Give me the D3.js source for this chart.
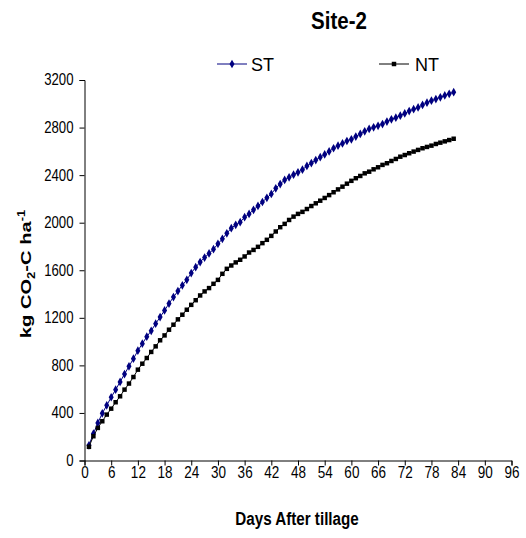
<!DOCTYPE html>
<html>
<head>
<meta charset="utf-8">
<script src="https://cdn.jsdelivr.net/npm/d3@7"></script>
<style>
  body { margin: 0; background: #fff; }
  text { font-family: Arial, "Liberation Sans", sans-serif; fill: #000; }
</style>
</head>
<body>
<script>
// cumulative CO2-C, days 1..83
const days = d3.range(1, 84);
const stValues = [
  128, 226, 316, 397, 464, 532, 596, 661, 727, 792,
  856, 924, 982, 1041, 1091, 1151, 1206, 1262, 1320, 1374,
  1425, 1473, 1520, 1576, 1626, 1669, 1707, 1741, 1777, 1822,
  1864, 1911, 1954, 1982, 2004, 2046, 2074, 2108, 2141, 2174,
  2209, 2242, 2289, 2325, 2360, 2382, 2404, 2424, 2446, 2477,
  2501, 2527, 2551, 2574, 2599, 2626, 2648, 2667, 2687, 2701,
  2724, 2746, 2768, 2788, 2802, 2815, 2829, 2850, 2869, 2883,
  2900, 2919, 2939, 2955, 2969, 2990, 3009, 3026, 3040, 3054,
  3070, 3084, 3098
];
const ntValues = [
  115, 204, 274, 330, 386, 436, 490, 540, 596, 647,
  702, 764, 814, 862, 913, 960, 1011, 1052, 1100, 1142,
  1187, 1226, 1268, 1309, 1348, 1388, 1422, 1450, 1486, 1519,
  1570, 1612, 1640, 1666, 1688, 1716, 1749, 1771, 1797, 1828,
  1856, 1889, 1926, 1962, 1990, 2023, 2051, 2074, 2091, 2115,
  2140, 2163, 2185, 2208, 2232, 2256, 2280, 2303, 2328, 2352,
  2374, 2393, 2415, 2429, 2449, 2466, 2486, 2500, 2519, 2536,
  2555, 2569, 2584, 2598, 2612, 2626, 2637, 2648, 2662, 2673,
  2684, 2695, 2706
];
const xTicks = d3.range(0, 97, 6);
const yTicks = d3.range(0, 3201, 400);

const w = 526, h = 538;
const plotLeft = 84.5, plotRight = 511.5, plotTop = 80, plotBottom = 460.5;
const stretch = 1.18; // text in the source is drawn a bit taller than wide

const svg = d3.select('body').append('svg')
  .attr('width', w).attr('height', h);

const x = d3.scaleLinear().domain([0, 96]).range([plotLeft, plotRight]);
const y = d3.scaleLinear().domain([0, 3200]).range([plotBottom, plotTop]);

// axes
svg.append('g')
  .attr('transform', `translate(0,${plotBottom})`)
  .call(d3.axisBottom(x).tickValues(xTicks).tickSize(5))
  .call(g => g.selectAll('text')
    .attr('font-size', 13.5)
    .attr('y', 17.5 / stretch).attr('dy', 0)
    .attr('transform', `scale(1,${stretch})`))
  .call(g => g.selectAll('path,line').attr('stroke', '#000'));

svg.append('g')
  .attr('transform', `translate(${plotLeft},0)`)
  .call(d3.axisLeft(y).tickValues(yTicks).tickFormat(d3.format('d')).tickSize(5).tickPadding(6))
  .call(g => g.selectAll('text')
    .attr('font-size', 13.2)
    .attr('transform', `scale(1,${stretch})`))
  .call(g => g.selectAll('.tick').each(function(d) {
    // keep label centred on its tick after the vertical stretch
    d3.select(this).select('text').attr('y', 0);
  }))
  .call(g => g.selectAll('path,line').attr('stroke', '#000'));

// series
const series = [
  { name: 'ST', values: stValues, color: '#000080', symbol: d3.symbolDiamond, size: 22 },
  { name: 'NT', values: ntValues, color: '#000000', symbol: d3.symbolSquare, size: 20 }
];

const line = d3.line().x((d, i) => x(days[i])).y(d => y(d));

series.forEach(s => {
  svg.append('path')
    .attr('d', line(s.values))
    .attr('fill', 'none')
    .attr('stroke', s.color)
    .attr('stroke-width', 1);
  svg.append('g').selectAll('path')
    .data(s.values)
    .enter()
    .append('path')
    .attr('transform', (d, i) => `translate(${x(days[i])},${y(d)})`)
    .attr('d', d3.symbol().type(s.symbol).size(s.size))
    .attr('fill', s.color);
});

// legend
const legend = [
  { s: series[0], x0: 217, tx: 251 },
  { s: series[1], x0: 379, tx: 415 }
];
legend.forEach(l => {
  svg.append('line')
    .attr('x1', l.x0).attr('x2', l.x0 + 30)
    .attr('y1', 64).attr('y2', 64)
    .attr('stroke', l.s.color);
  svg.append('path')
    .attr('transform', `translate(${l.x0 + 15},64)`)
    .attr('d', d3.symbol().type(l.s.symbol).size(l.s.size))
    .attr('fill', l.s.color);
  svg.append('text')
    .attr('x', l.tx).attr('y', 71)
    .attr('font-size', 18)
    .text(l.s.name);
});

// title
svg.append('text')
  .attr('transform', 'translate(339,29) scale(1,1.2)')
  .attr('text-anchor', 'middle')
  .attr('font-size', 20.5)
  .attr('font-weight', 'bold')
  .text('Site-2');

// x title
svg.append('text')
  .attr('transform', 'translate(297,525) scale(1,1.2)')
  .attr('text-anchor', 'middle')
  .attr('font-size', 15.2)
  .attr('font-weight', 'bold')
  .text('Days After tillage');

// y title
const yt = svg.append('text')
  .attr('transform', 'translate(31,274) scale(1,1.3) rotate(-90)')
  .attr('text-anchor', 'middle')
  .attr('font-size', 15.5)
  .attr('font-weight', 'bold');
yt.append('tspan').text('kg CO');
yt.append('tspan').attr('font-size', 10).attr('dy', 4).text('2');
yt.append('tspan').attr('dy', -4).text('-C ha');
yt.append('tspan').attr('font-size', 10).attr('dy', -6).text('-1');
</script>
</body>
</html>
